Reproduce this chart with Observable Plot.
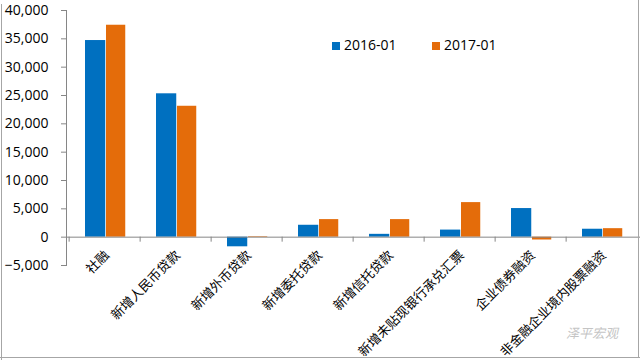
<!DOCTYPE html>
<html><head><meta charset="utf-8">
<script src="https://cdn.jsdelivr.net/npm/d3@7"></script>
<script src="https://cdn.jsdelivr.net/npm/@observablehq/plot@0.6"></script>
<style>
body{margin:0;background:#fff}
#wrap{position:relative;width:640px;height:360px;overflow:hidden;background:#fff}
#wrap svg{position:absolute;left:0;top:0}
.legend{position:absolute;top:35px;font-family:'Open Sans',sans-serif;font-size:14px;color:#000;white-space:nowrap;line-height:20px}
.legend span.sw{display:inline-block;width:8px;height:8px;margin-right:4px;vertical-align:0px}
.wm{position:absolute;left:566px;top:323px;font-family:'Noto Sans CJK SC',sans-serif;font-size:13px;color:#c4c4c4;font-style:italic}
.bl{position:absolute;background:#a6a6a6}
</style></head><body><div id="wrap"></div>
<script>
const categories = ["社融","新增人民币贷款","新增外币贷款","新增委托贷款","新增信托贷款","新增未贴现银行承兑汇票","企业债券融资","非金融企业境内股票融资"];
const seriesNames = ["2016-01","2017-01"];
const values2016 = [34700, 25300, -1700, 2100, 500, 1250, 5050, 1400];
const values2017 = [37400, 23100, 100, 3100, 3100, 6100, -500, 1500];
const colors = ["#0070C0","#E46C0A"];
const yTicks = [-5000,0,5000,10000,15000,20000,25000,30000,35000,40000];

const rows = categories.map((c,i)=>({cat:c, a:values2016[i], b:values2017[i]}));
const W=640, H=360, mL=66, mR=0;
const bw=(W-mL-mR)/categories.length;
const axisGray="#868686";

const chart = Plot.plot({
  width:W, height:H, marginLeft:mL, marginRight:mR, marginTop:10, marginBottom:95,
  style:{fontFamily:"'Open Sans',sans-serif", fontSize:"14px", color:"#000", background:"transparent", overflow:"visible"},
  x:{domain:categories, padding:0, axis:null},
  y:{domain:[-5000,40000], axis:null},
  marks:[
    Plot.barY(rows,{x:"cat", y:"a", fill:colors[0], insetLeft:16, insetRight:bw-37}),
    Plot.barY(rows,{x:"cat", y:"b", fill:colors[1], insetLeft:37, insetRight:bw-57}),
    Plot.ruleY([0],{stroke:axisGray}),
    Plot.ruleX(categories,{x:d=>d, dx:-bw/2, y1:()=>0, y2:()=>0, insetBottom:-5, stroke:axisGray}),
    Plot.frame({anchor:"left", stroke:axisGray}),
    Plot.axisY({ticks:yTicks, tickFormat:d3.format(","), tickSize:5, tickPadding:13, stroke:axisGray, fill:"#000", fontSize:14}),
    Plot.text(categories,{x:d=>d, y:()=>0, text:d=>d, rotate:-45, textAnchor:"end", dx:2, dy:16, fontSize:13, fontFamily:"'Noto Sans CJK SC',sans-serif", fill:"#000"})
  ]
});
const wrap=document.getElementById("wrap");
wrap.appendChild(chart);

const leg1=document.createElement("div");
leg1.className="legend"; leg1.style.left="332px";
leg1.innerHTML=`<span class="sw" style="background:${colors[0]}"></span>${seriesNames[0]}`;
wrap.appendChild(leg1);
const leg2=document.createElement("div");
leg2.className="legend"; leg2.style.left="432px";
leg2.innerHTML=`<span class="sw" style="background:${colors[1]}"></span>${seriesNames[1]}`;
wrap.appendChild(leg2);

const wm=document.createElement("div"); wm.className="wm"; wm.textContent="泽平宏观"; wrap.appendChild(wm);

[["1px","4px","1px","356px"],["638px","0px","1px","358px"],["0px","357px","640px","1px"]].forEach(([l,t,w,h])=>{
  const d=document.createElement("div"); d.className="bl";
  d.style.left=l; d.style.top=t; d.style.width=w; d.style.height=h; wrap.appendChild(d);
});
</script></body></html>
